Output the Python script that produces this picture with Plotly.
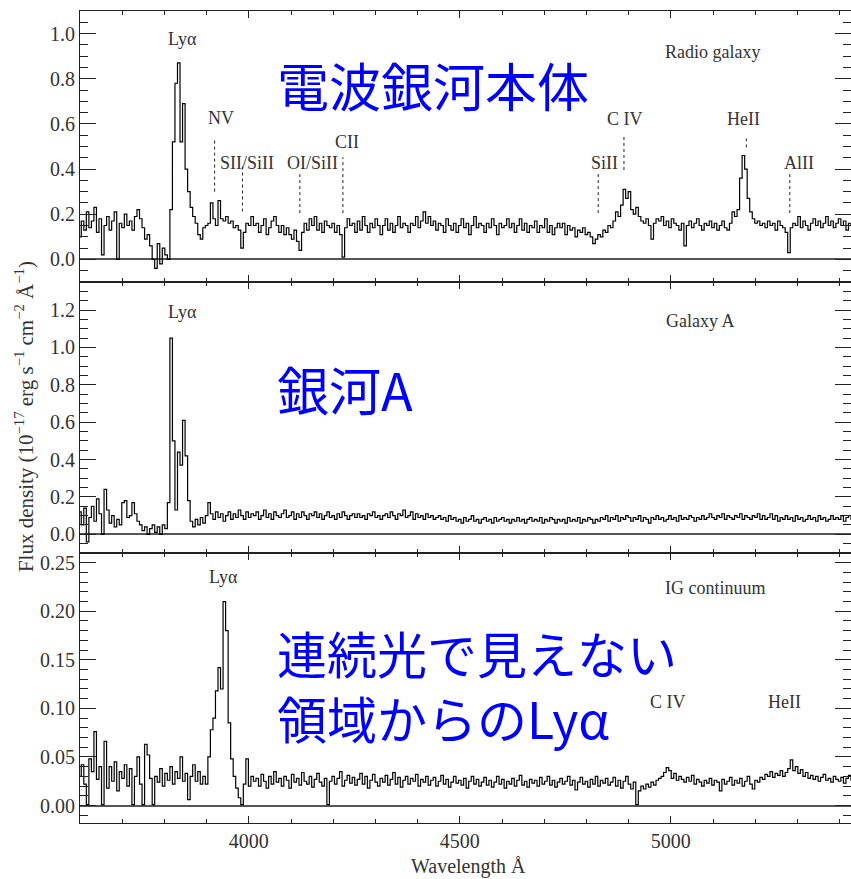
import numpy as np
import plotly.graph_objects as go

# Wavelength grid of the extracted spectra (6 Å bins)
wavelength = np.arange(3600, 5431, 6)

# Radio galaxy (host) spectrum, 1e-17 erg/s/cm2/Å
flux_radio = [
    0.10, 0.17, 0.13, 0.21, 0.14, 0.17, 0.23, 0.12, 0.18, 0.02,
    0.15, 0.19, 0.13, 0.17, 0.21, 0.00, 0.16, 0.14, 0.20, 0.15,
    0.17, 0.13, 0.19, 0.22, 0.18, 0.14, 0.09, 0.11, 0.06, 0.00,
    -0.04, 0.07, -0.02, 0.05, 0.02, 0.00, 0.22, 0.52, 0.78, 0.87,
    0.52, 0.69, 0.40, 0.30, 0.23, 0.19, 0.16, 0.11, 0.09, 0.14,
    0.15, 0.16, 0.25, 0.18, 0.15, 0.26, 0.18, 0.17, 0.19, 0.16,
    0.17, 0.14, 0.15, 0.13, 0.05, 0.12, 0.16, 0.15, 0.19, 0.15,
    0.16, 0.12, 0.15, 0.18, 0.11, 0.14, 0.17, 0.19, 0.15, 0.12,
    0.15, 0.11, 0.14, 0.11, 0.09, 0.13, 0.08, 0.04, 0.12, 0.16,
    0.13, 0.18, 0.15, 0.19, 0.13, 0.16, 0.12, 0.17, 0.15, 0.14,
    0.16, 0.12, 0.15, 0.11, 0.01, 0.14, 0.18, 0.15, 0.16, 0.12,
    0.17, 0.13, 0.19, 0.15, 0.12, 0.16, 0.14, 0.18, 0.15, 0.11,
    0.15, 0.18, 0.13, 0.16, 0.12, 0.15, 0.19, 0.14, 0.16, 0.15,
    0.12, 0.16, 0.15, 0.19, 0.14, 0.17, 0.21, 0.16, 0.19, 0.15,
    0.17, 0.13, 0.16, 0.15, 0.12, 0.18, 0.15, 0.13, 0.16, 0.12,
    0.15, 0.18, 0.14, 0.16, 0.11, 0.15, 0.19, 0.14, 0.16, 0.15,
    0.12, 0.16, 0.14, 0.18, 0.15, 0.11, 0.16, 0.14, 0.15, 0.18,
    0.14, 0.16, 0.12, 0.15, 0.18, 0.13, 0.16, 0.12, 0.15, 0.14,
    0.17, 0.12, 0.15, 0.14, 0.18, 0.12, 0.15, 0.11, 0.14, 0.16,
    0.14, 0.16, 0.11, 0.15, 0.13, 0.14, 0.10, 0.13, 0.12, 0.14,
    0.11, 0.12, 0.10, 0.07, 0.09, 0.11, 0.10, 0.13, 0.12, 0.15,
    0.14, 0.17, 0.21, 0.19, 0.24, 0.31, 0.27, 0.30, 0.22, 0.20,
    0.23, 0.19, 0.17, 0.16, 0.18, 0.15, 0.09, 0.16, 0.18, 0.17,
    0.19, 0.15, 0.17, 0.14, 0.18, 0.16, 0.15, 0.13, 0.16, 0.06,
    0.15, 0.17, 0.14, 0.16, 0.18, 0.15, 0.13, 0.16, 0.15, 0.17,
    0.14, 0.16, 0.13, 0.15, 0.17, 0.14, 0.13, 0.16, 0.21, 0.19,
    0.22, 0.36, 0.46, 0.40, 0.27, 0.21, 0.18, 0.16, 0.17, 0.15,
    0.16, 0.14, 0.17, 0.15, 0.16, 0.13, 0.17, 0.15, 0.14, 0.12,
    0.03, 0.14, 0.16, 0.15, 0.19, 0.14, 0.17, 0.15, 0.13, 0.16,
    0.18, 0.15, 0.17, 0.14, 0.16, 0.19, 0.15, 0.17, 0.14, 0.16,
    0.18, 0.15, 0.17, 0.13, 0.16, 0.15,
]

# Galaxy A spectrum
flux_galaxy_a = [
    0.12, 0.05, 0.14, -0.04, 0.09, 0.15, 0.07, 0.19, 0.11, 0.00,
    0.24, 0.13, 0.06, 0.10, 0.04, 0.08, 0.05, 0.17, 0.18, 0.09,
    0.10, 0.17, 0.11, 0.07, 0.05, 0.02, 0.04, 0.00, 0.03, 0.05,
    0.01, 0.04, 0.00, 0.05, 0.03, 0.17, 1.05, 0.50, 0.13, 0.44,
    0.37, 0.61, 0.42, 0.18, 0.07, 0.04, 0.08, 0.05, 0.09, 0.06,
    0.10, 0.17, 0.11, 0.08, 0.12, 0.09, 0.11, 0.07, 0.10, 0.12,
    0.08, 0.11, 0.09, 0.13, 0.10, 0.08, 0.12, 0.09, 0.11, 0.10,
    0.12, 0.08, 0.10, 0.13, 0.09, 0.11, 0.08, 0.12, 0.10, 0.09,
    0.11, 0.13, 0.09, 0.10, 0.12, 0.08, 0.11, 0.09, 0.12, 0.10,
    0.08, 0.11, 0.10, 0.12, 0.09, 0.11, 0.08, 0.10, 0.12, 0.09,
    0.10, 0.08, 0.11, 0.09, 0.12, 0.10, 0.08, 0.10, 0.11, 0.09,
    0.11, 0.09, 0.10, 0.08, 0.11, 0.10, 0.12, 0.09, 0.10, 0.08,
    0.10, 0.11, 0.09, 0.12, 0.10, 0.08, 0.11, 0.10, 0.13, 0.09,
    0.10, 0.12, 0.08, 0.11, 0.09, 0.10, 0.08, 0.11, 0.09, 0.10,
    0.08, 0.09, 0.10, 0.08, 0.09, 0.07, 0.10, 0.08, 0.09, 0.07,
    0.08, 0.06, 0.09, 0.07, 0.08, 0.10, 0.07, 0.08, 0.06, 0.08,
    0.09, 0.07, 0.08, 0.06, 0.09, 0.07, 0.08, 0.09, 0.07, 0.08,
    0.06, 0.08, 0.07, 0.09, 0.07, 0.08, 0.06, 0.08, 0.09, 0.07,
    0.08, 0.07, 0.09, 0.06, 0.08, 0.07, 0.09, 0.08, 0.06, 0.08,
    0.07, 0.08, 0.06, 0.09, 0.07, 0.08, 0.07, 0.09, 0.06, 0.08,
    0.07, 0.09, 0.08, 0.06, 0.08, 0.07, 0.09, 0.08, 0.10, 0.07,
    0.09, 0.08, 0.10, 0.07, 0.09, 0.08, 0.10, 0.09, 0.07, 0.09,
    0.08, 0.10, 0.07, 0.09, 0.08, 0.06, 0.09, 0.08, 0.10, 0.08,
    0.09, 0.07, 0.08, 0.10, 0.08, 0.09, 0.07, 0.10, 0.08, 0.09,
    0.08, 0.10, 0.09, 0.07, 0.09, 0.08, 0.10, 0.08, 0.09, 0.11,
    0.09, 0.08, 0.10, 0.09, 0.11, 0.08, 0.10, 0.09, 0.08, 0.10,
    0.09, 0.11, 0.08, 0.10, 0.09, 0.08, 0.10, 0.09, 0.11, 0.08,
    0.10, 0.08, 0.09, 0.11, 0.08, 0.10, 0.07, 0.09, 0.08, 0.10,
    0.08, 0.09, 0.07, 0.10, 0.08, 0.09, 0.07, 0.08, 0.10, 0.08,
    0.09, 0.07, 0.10, 0.08, 0.09, 0.07, 0.08, 0.10, 0.08, 0.09,
    0.08, 0.10, 0.07, 0.09, 0.10, 0.08,
]

# Intergalactic (continuum-free) region spectrum
flux_ig = [
    0.030, 0.042, 0.022, 0.001, 0.048, 0.035, 0.076, 0.027, 0.040, 0.001,
    0.066, 0.018, 0.040, 0.025, 0.045, 0.015, 0.035, 0.028, 0.042, 0.020,
    0.038, 0.001, 0.030, 0.050, 0.022, 0.001, 0.063, 0.052, 0.028, 0.001,
    0.030, 0.024, 0.038, 0.020, 0.033, 0.026, 0.040, 0.022, 0.035, 0.028,
    0.050, 0.025, 0.033, 0.006, 0.030, 0.042, 0.025, 0.035, 0.022, 0.030,
    0.022, 0.050, 0.078, 0.090, 0.118, 0.142, 0.120, 0.210, 0.180, 0.085,
    0.048, 0.030, 0.018, 0.008, 0.001, 0.022, 0.048, 0.020, 0.030, 0.025,
    0.028, 0.020, 0.032, 0.025, 0.018, 0.030, 0.022, 0.035, 0.024, 0.028,
    0.020, 0.030, 0.026, 0.018, 0.032, 0.024, 0.028, 0.021, 0.034, 0.025,
    0.022, 0.030, 0.019, 0.027, 0.033, 0.024, 0.020, 0.028, 0.001, 0.025,
    0.030, 0.022, 0.028, 0.035, 0.020, 0.026, 0.031, 0.023, 0.029, 0.021,
    0.027, 0.033, 0.022, 0.030, 0.018, 0.026, 0.032, 0.024, 0.020, 0.028,
    0.024, 0.031, 0.021, 0.027, 0.034, 0.022, 0.029, 0.019, 0.026, 0.030,
    0.022, 0.028, 0.025, 0.032, 0.020, 0.027, 0.024, 0.030, 0.021, 0.026,
    0.029, 0.020, 0.025, 0.031, 0.022, 0.027, 0.019, 0.024, 0.030, 0.023,
    0.026, 0.021, 0.028, 0.018, 0.025, 0.030, 0.022, 0.027, 0.020, 0.024,
    0.029, 0.021, 0.026, 0.019, 0.024, 0.030, 0.022, 0.027, 0.018, 0.025,
    0.022, 0.028, 0.020, 0.026, 0.031, 0.021, 0.025, 0.019, 0.027, 0.023,
    0.026, 0.020, 0.029, 0.022, 0.025, 0.030, 0.021, 0.026, 0.019, 0.024,
    0.028, 0.022, 0.025, 0.030, 0.021, 0.026, 0.016, 0.024, 0.029, 0.022,
    0.025, 0.019, 0.027, 0.022, 0.030, 0.020, 0.026, 0.023, 0.028, 0.021,
    0.024, 0.029, 0.020, 0.026, 0.018, 0.025, 0.030, 0.022, 0.017, 0.024,
    0.001, 0.015, 0.020, 0.017, 0.022, 0.019, 0.024, 0.021, 0.026, 0.028,
    0.030, 0.034, 0.039, 0.036, 0.028, 0.033, 0.026, 0.030, 0.027, 0.024,
    0.029, 0.025, 0.031, 0.022, 0.027, 0.024, 0.020, 0.026, 0.023, 0.028,
    0.021, 0.026, 0.024, 0.015, 0.027, 0.022, 0.025, 0.029, 0.021, 0.026,
    0.023, 0.028, 0.020, 0.025, 0.030, 0.022, 0.017, 0.026, 0.024, 0.029,
    0.027, 0.032, 0.030, 0.035, 0.029, 0.033, 0.031, 0.036, 0.030, 0.034,
    0.038, 0.047, 0.036, 0.040, 0.033, 0.037, 0.030, 0.034, 0.028, 0.031,
    0.027, 0.030, 0.025, 0.029, 0.032, 0.026, 0.028, 0.024, 0.030, 0.027,
    0.025, 0.029, 0.023, 0.028, 0.031, 0.026,
]

# Identified lines in the radio galaxy spectrum (observed Å)
line_names = ["NV", "SII/SiII", "OI/SiII", "CII", "SiII", "C IV", "HeII", "AlII"]
line_waves = [3919, 3985, 4121, 4223, 4828, 4889, 5179, 5282]

panel_titles = ["Radio galaxy", "Galaxy A", "IG continuum"]
x_tick_values = [4000, 4500, 5000]

SERIF = "Liberation Serif"
INK = "#222222"
TXT = "#333333"

fig = go.Figure()

spectra = [flux_radio, flux_galaxy_a, flux_ig]
axis_ids = ["", "2", "3"]
for flux, ax in zip(spectra, axis_ids):
    fig.add_trace(go.Scatter(
        x=wavelength, y=flux, mode="lines", line_shape="hvh",
        line=dict(color="black", width=1.2),
        xaxis="x" + ax, yaxis="y" + ax, showlegend=False, hoverinfo="skip",
    ))

domains = [[0.6663, 1.0], [0.3325, 0.6663], [0.0, 0.3325]]
y_ranges = [[-0.1, 1.1], [-0.1, 1.35], [-0.018, 0.26]]
y_dticks = [0.2, 0.2, 0.05]
y_minor = [0.05, 0.05, 0.01]
y_formats = [".1f", ".1f", ".2f"]

layout = dict(
    width=851, height=879,
    margin=dict(l=80, r=0, t=11, b=56),
    paper_bgcolor="white", plot_bgcolor="white",
    font=dict(family=SERIF, size=20, color=TXT),
    showlegend=False,
)

for i, ax in enumerate(axis_ids):
    layout["xaxis" + ax] = dict(
        domain=[0, 1], range=[3600, 5427], anchor="y" + ax,
        tickvals=x_tick_values, ticks="inside", ticklen=7, tickcolor=INK,
        minor=dict(dtick=100, tick0=3600, ticks="inside", ticklen=4, tickcolor=INK),
        showline=True, linecolor=INK, linewidth=1, mirror="ticks",
        showgrid=False, zeroline=False,
        showticklabels=(i == 2), tickfont=dict(family=SERIF, size=20, color=TXT),
    )
    layout["yaxis" + ax] = dict(
        domain=domains[i], range=y_ranges[i], anchor="x" + ax,
        dtick=y_dticks[i], tick0=0, tickformat=y_formats[i],
        ticks="inside", ticklen=16, tickcolor=INK,
        minor=dict(dtick=y_minor[i], tick0=0, ticks="inside", ticklen=8, tickcolor=INK),
        showline=True, linecolor=INK, linewidth=1, mirror="ticks",
        showgrid=False, zeroline=True, zerolinecolor="#555555", zerolinewidth=1.5,
        tickfont=dict(family=SERIF, size=20, color=TXT),
    )
fig.update_layout(**layout)

annotations = []
shapes = []

def label(text, x, y, ax="", size=18):
    annotations.append(dict(
        text=text, x=x, y=y, xref="x" + ax, yref="y" + ax,
        showarrow=False, xanchor="center", yanchor="middle",
        font=dict(family=SERIF, size=size, color=TXT),
    ))

# Panel 1: Lyα and marked lines
label("Lyα", 3843, 0.975)
label_pos = [(3934, 0.627), (3995, 0.425), (4152, 0.425), (4232, 0.52),
             (4844, 0.425), (4892, 0.623), (5173, 0.623), (5303, 0.425)]
tick_spans = [(0.30, 0.535), (0.212, 0.414), (0.205, 0.381), (0.205, 0.452),
              (0.205, 0.381), (0.396, 0.55), (0.496, 0.54), (0.205, 0.381)]
for name, wl, (lx, ly), (y0, y1) in zip(line_names, line_waves, label_pos, tick_spans):
    label(name, lx, ly)
    shapes.append(dict(type="line", xref="x", yref="y", x0=wl, x1=wl, y0=y0, y1=y1,
                       line=dict(color=INK, width=1, dash="dot")))
label(panel_titles[0], 5098, 0.92)

# Panel 2
label("Lyα", 3843, 1.19, "2")
label(panel_titles[1], 5069, 1.14, "2")

# Panel 3
label("Lyα", 3940, 0.235, "3")
label(panel_titles[2], 5107, 0.2235, "3")
label("C IV", 4993, 0.1064, "3")
label("HeII", 5270, 0.1064, "3")

# Axis titles
annotations.append(dict(
    text="Wavelength Å", x=0.5035, y=-0.053, xref="paper", yref="paper",
    showarrow=False, xanchor="center", yanchor="middle",
    font=dict(family=SERIF, size=20, color=TXT),
))
annotations.append(dict(
    text="Flux density (10<sup>−17</sup> erg s<sup>−1</sup> cm<sup>−2</sup> Å<sup>−1</sup>)",
    x=-0.0725, y=0.5, xref="paper", yref="paper", textangle=-90,
    showarrow=False, xanchor="center", yanchor="middle",
    font=dict(family=SERIF, size=21, color=TXT),
))

# Japanese captions
JP = "Noto Sans CJK JP"
captions = [("電波銀河本体", 0.910, 52), ("銀河A", 0.5357, 52),
            ("連続光で見えない<br>領域からのLyα", 0.1706, 50)]
for text, yp, size in captions:
    annotations.append(dict(
        text=text, x=0.2529, y=yp, xref="paper", yref="paper",
        showarrow=False, xanchor="left", yanchor="middle", align="left",
        font=dict(family=JP, size=size, color="#0000ff"),
    ))

fig.update_layout(annotations=annotations, shapes=shapes)
fig.write_html("out.html")
